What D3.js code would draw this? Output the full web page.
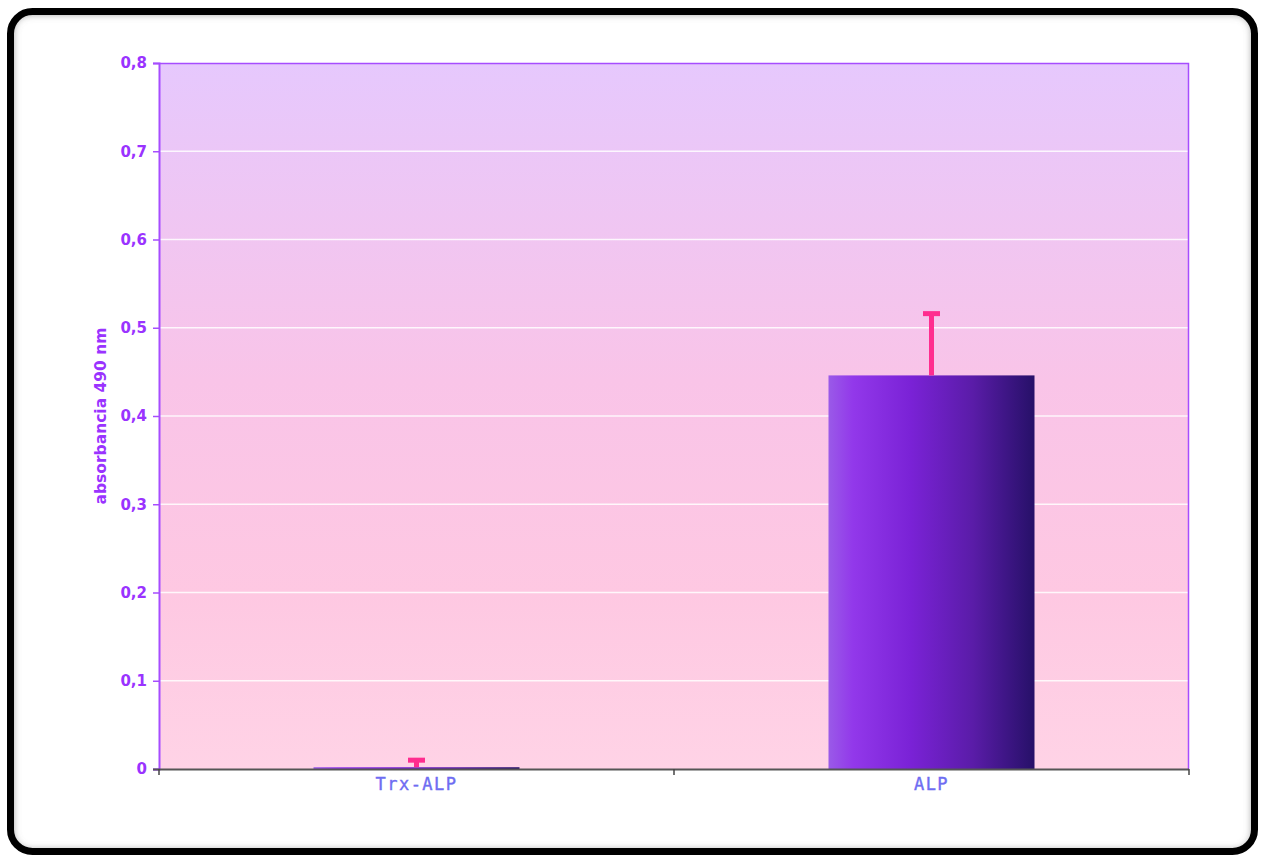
<!DOCTYPE html>
<html>
<head>
<meta charset="utf-8">
<script src="https://cdn.jsdelivr.net/npm/d3@7"></script>
<style>
  html, body { margin: 0; padding: 0; background: #ffffff; }
  svg { display: block; }
</style>
</head>
<body>
<svg id="chart" width="1262" height="856"></svg>
<script>
// Absorbance at 490 nm for the two constructs
const categories = ["Trx-ALP", "ALP"];
const values = [0.002, 0.446];
const errors = [0.008, 0.07];
const yTicks = [0, 0.1, 0.2, 0.3, 0.4, 0.5, 0.6, 0.7, 0.8];
const yTitle = "absorbancia 490 nm";

const svg = d3.select("#chart");
const W = 1262, H = 856;
const plot = { left: 159, right: 1189, top: 63, bottom: 769 };

const locale = d3.formatLocale({ decimal: ",", thousands: ".", grouping: [3], currency: ["", ""] });
const fmt = locale.format("~g");

const defs = svg.append("defs");

// plot background: lavender at top fading to pink
const bg = defs.append("linearGradient").attr("id", "bgGrad")
  .attr("x1", 0).attr("y1", 0).attr("x2", 0).attr("y2", 1);
bg.append("stop").attr("offset", "0%").attr("stop-color", "#e6c8fd");
bg.append("stop").attr("offset", "45%").attr("stop-color", "#f9c4e8");
bg.append("stop").attr("offset", "75%").attr("stop-color", "#fec8e2");
bg.append("stop").attr("offset", "100%").attr("stop-color", "#ffd3e6");

// bar fill: bright violet on the left, deep indigo on the right
const barGrad = defs.append("linearGradient").attr("id", "barGrad")
  .attr("x1", 0).attr("y1", 0).attr("x2", 1).attr("y2", 0);
barGrad.append("stop").attr("offset", "0%").attr("stop-color", "#9a5ae8");
barGrad.append("stop").attr("offset", "12%").attr("stop-color", "#9238ea");
barGrad.append("stop").attr("offset", "40%").attr("stop-color", "#7a22d6");
barGrad.append("stop").attr("offset", "70%").attr("stop-color", "#5a1ca8");
barGrad.append("stop").attr("offset", "100%").attr("stop-color", "#261068");

// soft shadow inside the frame
const blur = defs.append("filter").attr("id", "soft")
  .attr("x", "-5%").attr("y", "-5%").attr("width", "110%").attr("height", "110%");
blur.append("feGaussianBlur").attr("stdDeviation", 4);
defs.append("clipPath").attr("id", "frameClip")
  .append("rect").attr("x", 11).attr("y", 12).attr("width", 1243).attr("height", 840).attr("rx", 20);

svg.append("rect").attr("width", W).attr("height", H).attr("fill", "#ffffff");

svg.append("g").attr("clip-path", "url(#frameClip)")
  .append("rect")
  .attr("x", 8).attr("y", 9).attr("width", 1249).attr("height", 846).attr("rx", 22)
  .attr("fill", "none").attr("stroke", "#777").attr("stroke-width", 8)
  .attr("filter", "url(#soft)");

svg.append("rect")
  .attr("x", 10.5).attr("y", 11.5).attr("width", 1244).attr("height", 840).attr("rx", 22)
  .attr("fill", "none").attr("stroke", "#000").attr("stroke-width", 7);

// scales
const x = d3.scaleBand().domain(categories)
  .range([plot.left, plot.right]).paddingInner(0.6).paddingOuter(0.3);
const xStep = (plot.right - plot.left) / categories.length;
const y = d3.scaleLinear().domain([0, 0.8]).range([plot.bottom, plot.top]);

// plot area
svg.append("rect")
  .attr("x", plot.left).attr("y", plot.top)
  .attr("width", plot.right - plot.left).attr("height", plot.bottom - plot.top)
  .attr("fill", "url(#bgGrad)");

// gridlines
svg.append("g").selectAll("line")
  .data(yTicks.filter(d => d > 0 && d < 0.8))
  .join("line")
  .attr("x1", plot.left).attr("x2", plot.right)
  .attr("y1", d => y(d)).attr("y2", d => y(d))
  .attr("stroke", "#ffffff").attr("stroke-opacity", 0.85).attr("stroke-width", 1.6);

// frame lines on top and right
svg.append("path")
  .attr("d", `M${plot.left},${plot.top + 0.5}H${plot.right - 0.5}V${plot.bottom}`)
  .attr("fill", "none").attr("stroke", "#a64dff").attr("stroke-width", 1.5);

// bars
svg.append("g").selectAll("rect")
  .data(categories.map((c, i) => ({ c, v: values[i], e: errors[i] })))
  .join("rect")
  .attr("x", d => x(d.c))
  .attr("y", d => y(d.v))
  .attr("width", x.bandwidth())
  .attr("height", d => Math.max(y(0) - y(d.v), 2.5))
  .attr("fill", "url(#barGrad)");

// error bars (upper only)
const eb = svg.append("g").attr("fill", "#ff2d8f");
categories.forEach((c, i) => {
  const cx = x(c) + x.bandwidth() / 2;
  const top = y(values[i] + errors[i]);
  const base = y(values[i]);
  eb.append("rect").attr("x", cx - 2.5).attr("y", top).attr("width", 5).attr("height", Math.max(base - top, 0));
  eb.append("rect").attr("x", cx - 8.5).attr("y", top - 2.5).attr("width", 17).attr("height", 5);
});

// y axis
const yAxis = svg.append("g")
  .attr("transform", `translate(${plot.left},0)`)
  .call(d3.axisLeft(y).tickValues(yTicks).tickFormat(fmt).tickSize(6).tickPadding(6));
yAxis.select(".domain").attr("stroke", "#a64dff").attr("stroke-width", 2);
yAxis.selectAll(".tick line").attr("stroke", "#a64dff").attr("stroke-width", 1.5);
yAxis.selectAll(".tick text")
  .attr("fill", "#9a33ff")
  .attr("font-family", "'DejaVu Sans', Verdana, sans-serif")
  .attr("font-weight", "bold")
  .attr("font-size", 15);

// x axis
const xAxis = svg.append("g")
  .attr("transform", `translate(0,${plot.bottom})`)
  .call(d3.axisBottom(x).tickSize(0).tickPadding(9));
xAxis.select(".domain").remove();
xAxis.append("line")
  .attr("x1", plot.left - 6).attr("x2", plot.right).attr("y1", 0.5).attr("y2", 0.5)
  .attr("stroke", "#555").attr("stroke-width", 2);
xAxis.selectAll(".sep").data(d3.range(categories.length + 1)).join("line")
  .attr("class", "sep")
  .attr("x1", i => plot.left + i * xStep).attr("x2", i => plot.left + i * xStep)
  .attr("y1", 0).attr("y2", 6)
  .attr("stroke", "#444").attr("stroke-width", 1.5);
xAxis.selectAll(".tick text")
  .attr("fill", "#6e6cf2")
  .attr("font-family", "'DejaVu Sans Mono', monospace")
  .attr("font-size", 17)
  .attr("stroke", "#6e6cf2").attr("stroke-width", 0.4)
  .attr("letter-spacing", 1.5);

// y axis title
svg.append("text")
  .attr("transform", `translate(106,${(plot.top + plot.bottom) / 2}) rotate(-90)`)
  .attr("text-anchor", "middle")
  .attr("fill", "#9a33ff")
  .attr("font-family", "'DejaVu Sans', Verdana, sans-serif")
  .attr("font-weight", "bold")
  .attr("font-size", 15.5)
  .text(yTitle);
</script>
</body>
</html>
